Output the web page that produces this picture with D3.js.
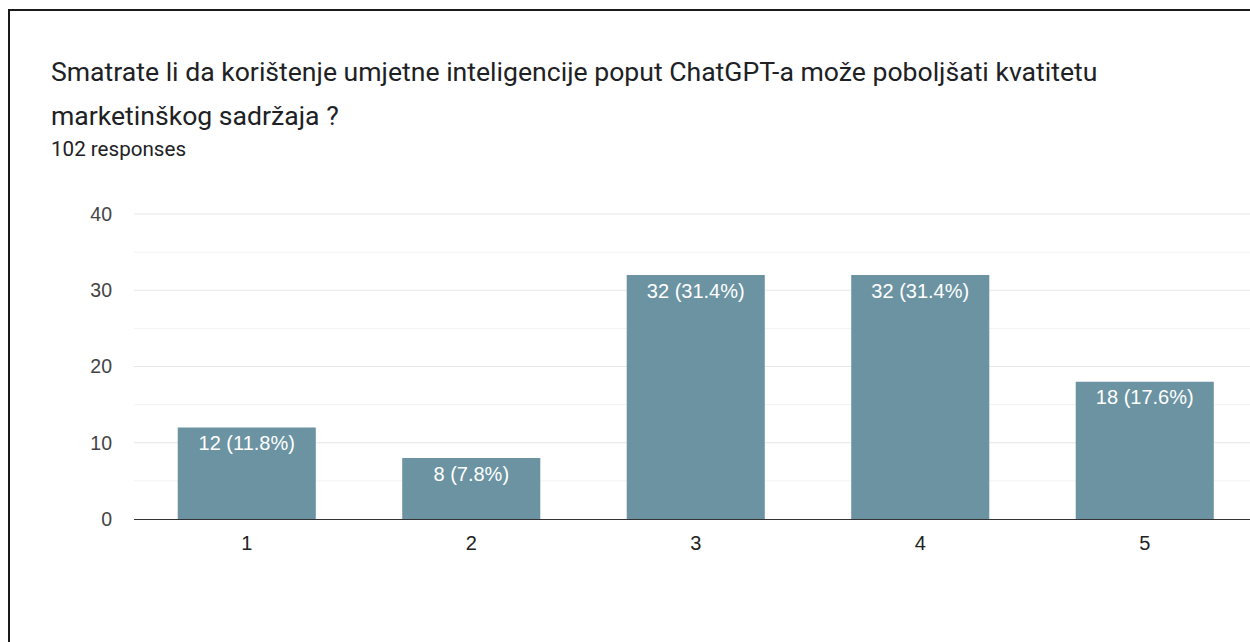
<!DOCTYPE html>
<html>
<head>
<meta charset="utf-8">
<script src="https://cdn.jsdelivr.net/npm/d3@7"></script>
<style>
  body { margin: 0; background: #fff; }
  svg { display: block; font-family: Roboto, Arial, sans-serif; }
</style>
</head>
<body>
<svg id="viz" width="1250" height="642"></svg>
<script>
var titleLines = ["Smatrate li da korištenje umjetne inteligencije poput ChatGPT-a može poboljšati kvatitetu",
                  "marketinškog sadržaja ?"];
var subtitle = "102 responses";
var categories = ["1", "2", "3", "4", "5"];
var counts = [12, 8, 32, 32, 18];
var percents = ["11.8%", "7.8%", "31.4%", "31.4%", "17.6%"];
var yTicks = [0, 10, 20, 30, 40];
var yMinorTicks = [5, 15, 25, 35];

var CHART_FONT = "'Liberation Sans', Arial, sans-serif";

var svg = d3.select("#viz");

// frame (only top and left are visible in the shot)
svg.append("path")
    .attr("d", "M9,642 L9,10 L1250,10")
    .attr("fill", "none")
    .attr("stroke", "#1a1a1a")
    .attr("stroke-width", 2);

svg.append("g").selectAll("text")
    .data(titleLines)
    .enter()
    .append("text")
    .attr("x", 51)
    .attr("y", function(d, i) { return 81 + i * 44; })
    .attr("font-size", 26.6)
    .attr("fill", "#202124")
    .text(function(d) { return d; });

svg.append("text")
    .attr("x", 51)
    .attr("y", 156)
    .attr("font-size", 20.6)
    .attr("fill", "#202124")
    .text(subtitle);

var x = d3.scaleBand().domain(categories).range([134.5, 1257]).paddingInner(0.385).paddingOuter(0.1925);
var y = d3.scaleLinear().domain([0, 40]).range([519, 214]);

var grid = svg.append("g");
grid.selectAll("line.minor")
    .data(yMinorTicks)
    .enter()
    .append("line")
    .attr("class", "minor")
    .attr("x1", 134).attr("x2", 1250)
    .attr("y1", function(d) { return y(d); })
    .attr("y2", function(d) { return y(d); })
    .attr("stroke", "#f3f3f3");
grid.selectAll("line.major")
    .data(yTicks.slice(1))
    .enter()
    .append("line")
    .attr("class", "major")
    .attr("x1", 134).attr("x2", 1250)
    .attr("y1", function(d) { return y(d); })
    .attr("y2", function(d) { return y(d); })
    .attr("stroke", "#e6e6e6");

var yAxis = svg.append("g")
    .attr("transform", "translate(134,0)")
    .call(d3.axisLeft(y).tickValues(yTicks).tickSize(0).tickPadding(22));
yAxis.select(".domain").remove();
yAxis.attr("font-size", 19.5).attr("font-family", CHART_FONT);
yAxis.selectAll("text").attr("fill", "#444");

var bars = svg.append("g").selectAll("g")
    .data(counts)
    .enter()
    .append("g");

bars.append("rect")
    .attr("x", function(d, i) { return x(categories[i]); })
    .attr("y", function(d) { return y(d); })
    .attr("width", x.bandwidth())
    .attr("height", function(d) { return y(0) - y(d); })
    .attr("fill", "#6b93a2");

bars.append("text")
    .attr("x", function(d, i) { return x(categories[i]) + x.bandwidth() / 2; })
    .attr("y", function(d) { return y(d) + 22.5; })
    .attr("text-anchor", "middle")
    .attr("font-family", CHART_FONT)
    .attr("font-size", 20)
    .attr("fill", "#fff")
    .text(function(d, i) { return d + " (" + percents[i] + ")"; });

var xAxis = svg.append("g")
    .attr("transform", "translate(0,519)")
    .call(d3.axisBottom(x).tickSize(0).tickPadding(17));
xAxis.select(".domain").remove();
xAxis.attr("font-size", 20).attr("font-family", CHART_FONT);
xAxis.selectAll("text").attr("fill", "#222");

svg.append("line")
    .attr("x1", 134).attr("x2", 1250)
    .attr("y1", 519.5).attr("y2", 519.5)
    .attr("stroke", "#333")
    .attr("stroke-width", 1.2);
</script>
</body>
</html>
